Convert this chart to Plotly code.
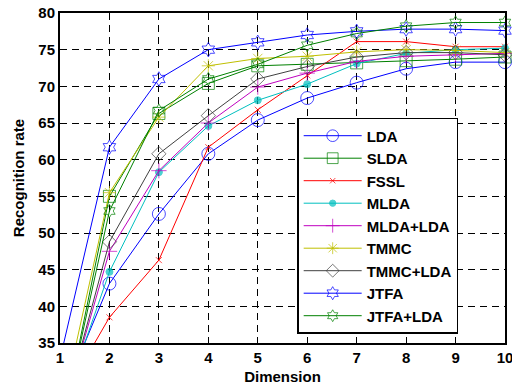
import plotly.graph_objects as go

dims = [1, 2, 3, 4, 5, 6, 7, 8, 9, 10]

LDA      = [26.9, 43.1, 52.6, 60.8, 65.4, 68.4, 70.5, 72.4, 73.3, 73.3]
SLDA     = [22.1, 55.0, 66.3, 70.4, 72.8, 73.0, 73.2, 73.5, 73.7, 74.0]
FSSL     = [26.8, 38.5, 46.3, 61.7, 66.8, 71.5, 76.1, 76.1, 75.4, 75.4]
MLDA     = [25.3, 44.7, 58.3, 64.6, 68.1, 70.3, 73.1, 74.5, 75.0, 75.2]
MLDA_LDA = [24.0, 47.5, 58.5, 65.0, 69.9, 71.8, 73.4, 74.1, 74.3, 74.5]
TMMC     = [24.9, 55.5, 65.8, 72.8, 73.8, 74.1, 74.7, 75.0, 74.9, 74.6]
TMMC_LDA = [23.8, 48.8, 60.8, 66.0, 71.0, 72.7, 74.0, 74.6, 74.6, 74.3]
JTFA     = [32.8, 61.7, 71.0, 75.0, 76.0, 77.0, 77.5, 77.8, 77.8, 77.6]
JTFA_LDA = [22.4, 53.0, 66.7, 71.0, 73.0, 75.6, 77.2, 78.2, 78.7, 78.7]

names = ["LDA", "SLDA", "FSSL", "MLDA", "MLDA+LDA", "TMMC", "TMMC+LDA", "JTFA", "JTFA+LDA"]
series = [LDA, SLDA, FSSL, MLDA, MLDA_LDA, TMMC, TMMC_LDA, JTFA, JTFA_LDA]

styles = [
    dict(color="#0000ff", symbol="circle-open", size=13),
    dict(color="#008000", symbol="square-open", size=12),
    dict(color="#ff0000", symbol="x-thin-open", size=6),
    dict(color="#00bfbf", symbol="circle", size=7),
    dict(color="#bf00bf", symbol="cross-thin-open", size=11),
    dict(color="#bfbf00", symbol="asterisk-open", size=11),
    dict(color="#404040", symbol="diamond-open", size=11),
    dict(color="#0000ff", symbol="hexagram-open", size=11),
    dict(color="#008000", symbol="hexagram-open", size=10),
]

FONT = "Arial, Liberation Sans"

fig = go.Figure()
for nm, vals, st in zip(names, series, styles):
    # hide the marker of the point that lies below the visible y-range
    sizes = [0 if v < 35 else st["size"] for v in vals]
    fig.add_trace(go.Scatter(
        x=dims, y=vals, name=nm, mode="lines+markers",
        line=dict(color=st["color"], width=1),
        marker=dict(symbol=st["symbol"], size=sizes, color=st["color"],
                    line=dict(color=st["color"], width=1)),
        cliponaxis=False,
    ))

axis_common = dict(
    showline=True, linecolor="black", linewidth=2, mirror=True,
    showgrid=True, gridcolor="black", gridwidth=1, griddash="7px,5px",
    zeroline=False, ticks="inside", ticklen=5, tickcolor="black",
    automargin=False, ticklabeloverflow="allow",
    tickfont=dict(family=FONT, size=15, color="black", weight="bold"),
)

fig.update_xaxes(range=[1, 10], tickmode="array", tickvals=dims,
                 title=dict(text="<b>Dimension</b>", standoff=6,
                            font=dict(family=FONT, size=15, color="black")),
                 **axis_common)
fig.update_yaxes(range=[35, 80], tickmode="array", tickvals=[35, 40, 45, 50, 55, 60, 65, 70, 75, 80],
                 title=dict(text="<b>Recognition rate</b>", standoff=10,
                            font=dict(family=FONT, size=15, color="black")),
                 **axis_common)

fig.update_layout(
    width=512, height=388,
    margin=dict(l=60, r=7, t=13, b=45),
    paper_bgcolor="white", plot_bgcolor="white",
    font=dict(family=FONT, color="black"),
    showlegend=True,
    legend=dict(
        x=0.533, y=0.682, xanchor="left", yanchor="top",
        bgcolor="white", bordercolor="black", borderwidth=1.5,
        font=dict(family=FONT, size=15, color="black", weight="bold"),
        tracegroupgap=0, itemwidth=58,
    ),
)

fig.write_html("out.html", config={"displayModeBar": False},
               post_script="document.body.style.margin='0';")
